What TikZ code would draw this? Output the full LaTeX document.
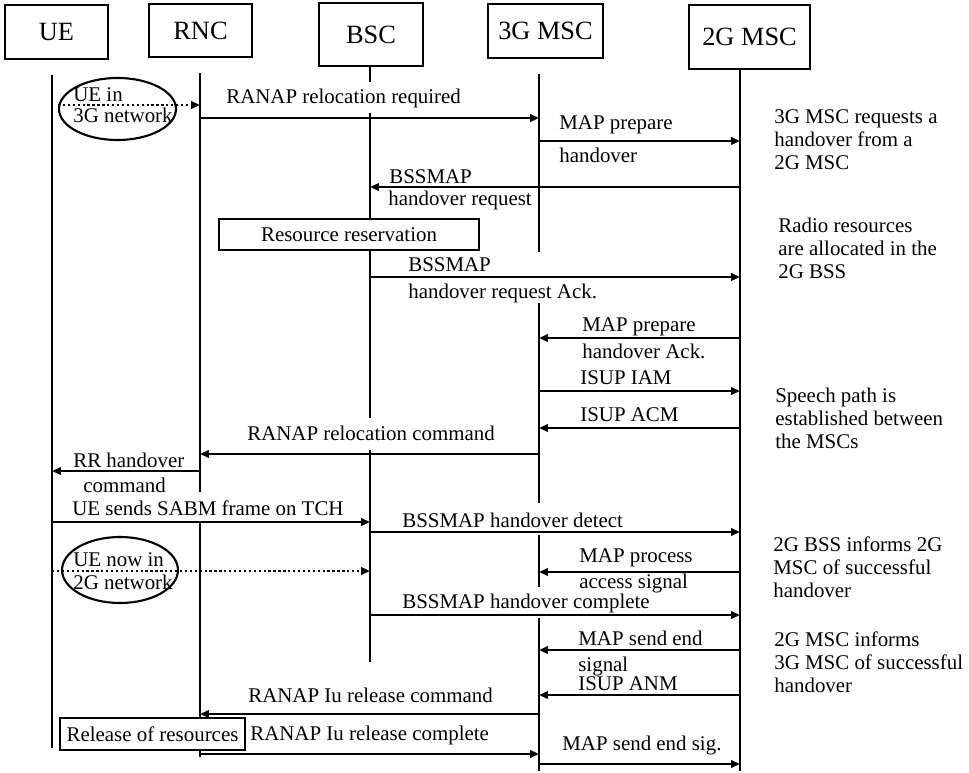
\documentclass[tikz,border=0pt]{standalone}
\usepackage{fontspec}
\setmainfont{Liberation Serif}
\usetikzlibrary{arrows.meta,positioning,shapes.geometric}
\tikzset{
  hdr/.style={draw,rectangle,line width=1.3pt,inner sep=0pt,font=\fontsize{15}{17}\selectfont},
  lbl/.style={inner sep=0pt,anchor=west,font=\fontsize{11.9}{13.1}\selectfont},
  note/.style={lbl,align=left},
  oval/.style={draw,ellipse,line width=1.2pt,inner sep=0pt},
  actbox/.style={draw,rectangle,line width=1.3pt,fill=white,inner sep=0pt,font=\fontsize{11.9}{13.1}\selectfont},
  life/.style={line width=1.3pt},
  arr/.style={-{Triangle[length=5pt,width=4.2pt]},line width=1.1pt},
  dotarr/.style={arr,line width=1.3pt,dash pattern=on 1.3pt off 1.5pt}
}
\begin{document}
\begin{tikzpicture}[x=0.02cm,y=-0.02cm]
  \useasboundingbox (0,0) rectangle (969,773);
  % entities
  \node[hdr,minimum width=2.06cm,minimum height=1.08cm] (ue) at (56.5,32) {UE};
  \node[hdr,minimum width=2.06cm,minimum height=1.06cm] (rnc) at (200.5,30.5) {RNC};
  \node[hdr,minimum width=2.08cm,minimum height=1.26cm] (bsc) at (371,34.5) {BSC};
  \node[hdr,minimum width=2.30cm,minimum height=1.08cm] (msc3) at (545.5,31) {3G MSC};
  \node[hdr,minimum width=2.42cm,minimum height=1.28cm] (msc2) at (749.5,37) {2G MSC};

  % lifelines
  \coordinate (l-ue) at (52,75);
  \coordinate (l-rnc) at (200,73);
  \coordinate (l-bsc) at (370,66);
  \coordinate (l-m3) at (539,74);
  \coordinate (l-m2) at (740,69);
  \draw[life] (l-ue) -- (l-ue |- 0,748);
  \draw[life] (l-rnc) -- (l-rnc |- 0,492) (l-rnc |- 0,522) -- (l-rnc |- 0,757);
  \draw[life] (l-bsc) -- (l-bsc |- 0,82) (l-bsc |- 0,113) -- (l-bsc |- 0,418)
              (l-bsc |- 0,450) -- (l-bsc |- 0,662);
  \draw[life] (l-m3) -- (l-m3 |- 0,252) (l-m3 |- 0,303) -- (l-m3 |- 0,503)
              (l-m3 |- 0,535) -- (l-m3 |- 0,587) (l-m3 |- 0,618) -- (l-m3 |- 0,771);
  \draw[life] (l-m2) -- (l-m2 |- 0,771);

  % UE in 3G network
  \node[oval,minimum width=2.34cm,minimum height=1.24cm] (in3g) at (117.5,109) {};
  \node[lbl] (in3g-a) at (73,95) {UE in};
  \node[lbl] (in3g-b) at (73,115) {3G network};
  \draw[dotarr] (in3g.west |- 0,105) -- (l-rnc |- 0,105);

  \node[lbl] (m1) at (226,98) {RANAP relocation required};
  \draw[arr] (l-rnc |- 0,118) -- (l-m3 |- 0,118);

  \node[lbl] (m2a) at (559,125) {MAP prepare};
  \node[lbl] (m2b) at (559,155) {handover};
  \draw[arr] (l-m3 |- 0,141) -- (l-m2 |- 0,141);

  \node[lbl] (m3a) at (389,177) {BSSMAP};
  \node[lbl] (m3b) at (388,200) {handover request};
  \draw[arr] (l-m2 |- 0,187) -- (l-bsc |- 0,187);

  \node[actbox,minimum width=5.2cm,minimum height=0.62cm] (resv) at (349,234.5) {Resource reservation};

  \node[lbl] (m4a) at (408,265) {BSSMAP};
  \node[lbl] (m4b) at (408,293) {handover request Ack.};
  \draw[arr] (l-bsc |- 0,277) -- (l-m2 |- 0,277);

  \node[lbl] (m5a) at (582,327) {MAP prepare};
  \node[lbl] (m5b) at (582,351) {handover Ack.};
  \draw[arr] (l-m2 |- 0,338) -- (l-m3 |- 0,338);

  \node[lbl] (m6) at (580,378) {ISUP IAM};
  \draw[arr] (l-m3 |- 0,391) -- (l-m2 |- 0,391);

  \node[lbl] (m7) at (580,415) {ISUP ACM};
  \draw[arr] (l-m2 |- 0,428) -- (l-m3 |- 0,428);

  \node[lbl] (m8) at (247,433) {RANAP relocation command};
  \draw[arr] (l-m3 |- 0,454) -- (l-rnc |- 0,454);

  \node[lbl] (m9a) at (73,460) {RR handover};
  \node[lbl] (m9b) at (83,485) {command};
  \draw[arr] (l-rnc |- 0,471) -- (l-ue |- 0,471);

  \node[lbl] (m10) at (72,508) {UE sends SABM frame on TCH};
  \draw[arr] (l-ue |- 0,522) -- (l-bsc |- 0,522);

  \node[lbl] (m11) at (402,520) {BSSMAP handover detect};
  \draw[arr] (l-bsc |- 0,532) -- (l-m2 |- 0,532);

  % UE now in 2G network
  \node[oval,minimum width=2.32cm,minimum height=1.32cm] (in2g) at (120,570) {};
  \node[lbl] (in2g-a) at (73,560) {UE now in};
  \node[lbl] (in2g-b) at (73,582) {2G network};
  \draw[dotarr] (l-ue |- 0,571) -- (l-bsc |- 0,571);

  \node[lbl] (m12a) at (579,558) {MAP process};
  \node[lbl] (m12b) at (579,583) {access signal};
  \draw[arr] (l-m2 |- 0,572) -- (l-m3 |- 0,572);

  \node[lbl] (m13) at (402,603) {BSSMAP handover complete};
  \draw[arr] (l-bsc |- 0,615) -- (l-m2 |- 0,615);

  \node[lbl] (m14a) at (578,638) {MAP send end};
  \node[lbl] (m14b) at (578,666) {signal};
  \draw[arr] (l-m2 |- 0,650) -- (l-m3 |- 0,650);

  \node[lbl] (m15) at (578,684) {ISUP ANM};
  \draw[arr] (l-m2 |- 0,695) -- (l-m3 |- 0,695);

  \node[lbl] (m16) at (248,695) {RANAP Iu release command};
  \draw[arr] (l-m3 |- 0,714) -- (l-rnc |- 0,714);

  \node[actbox,minimum width=3.7cm,minimum height=0.64cm] (rel) at (152.5,734) {Release of resources};

  \node[lbl] (m17) at (250,735) {RANAP Iu release complete};
  \draw[arr] (l-rnc |- 0,754) -- (l-m3 |- 0,754);

  \node[lbl] (m18) at (562,745) {MAP send end sig.};
  \draw[arr] (l-m3 |- 0,764) -- (l-m2 |- 0,764);

  % side notes
  \node[note] (n1) at (774,140) {3G MSC requests a\\handover from a\\2G MSC};
  \node[note] (n2) at (778,248) {Radio resources\\are allocated in the\\2G BSS};
  \node[note] (n3) at (775,418) {Speech path is\\established between\\the MSCs};
  \node[note] (n4) at (773,567) {2G BSS informs 2G\\MSC of successful\\handover};
  \node[note] (n5) at (774,662) {2G MSC informs\\3G MSC of successful\\handover};
\end{tikzpicture}
\end{document}
